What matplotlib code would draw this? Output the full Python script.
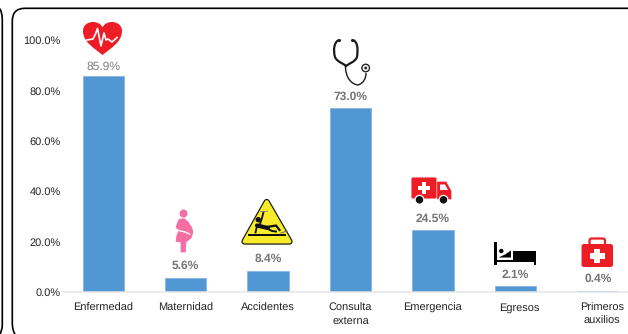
import matplotlib
matplotlib.use("Agg")
from matplotlib import pyplot as plt
from matplotlib.patches import Circle, FancyBboxPatch, PathPatch, Polygon, Rectangle
from matplotlib.path import Path
from matplotlib.ticker import FuncFormatter
from matplotlib.transforms import ScaledTranslation

plt.rcParams["font.family"] = ["Liberation Sans", "DejaVu Sans"]
plt.rcParams["text.hinting"] = "no_hinting"
plt.rcParams["text.hinting_factor"] = 1

categories = ["Enfermedad", "Maternidad", "Accidentes", "Consulta\nexterna",
              "Emergencia", "Egresos", "Primeros\nauxilios"]
values = [85.9, 5.6, 8.4, 73.0, 24.5, 2.1, 0.4]
y_ticks = [0, 20, 40, 60, 80, 100]

W, H = 628, 334
BLUE = "#5097d3"
RED = "#ee1c25"
PINK = "#f46ea3"
YELLOW = "#f8ec2a"

fig = plt.figure(figsize=(W / 100, H / 100), dpi=100)

# main axes run past the right edge, like the cropped original
ax = fig.add_axes([62 / W, 1 - 291.7 / H, 577 / W, 276.5 / H])
x = list(range(len(values)))
ax.bar(x, values, width=0.5, color=BLUE, edgecolor="#7fb3e3", linewidth=0.5)
ax.set_xlim(-0.5, 6.5)
ax.set_ylim(0, 110)
ax.patch.set_alpha(0)
for name in ["top", "right", "left"]:
    ax.spines[name].set_visible(False)
ax.spines["bottom"].set_color("#e6e6e6")
ax.spines["bottom"].set_linewidth(1.1)
ax.set_yticks(y_ticks)
ax.yaxis.set_major_formatter(FuncFormatter(lambda v, p: f"{v:.1f}%"))
ax.set_xticks(x)
ax.set_xticklabels(categories, linespacing=1.4)
ax.tick_params(axis="both", length=0, labelsize=7.7, labelcolor="#222222")
ax.tick_params(axis="y", pad=1.0)
ax.tick_params(axis="x", pad=8.0)

# last two labels sit a bit to the right of their bars
for label in ax.get_xticklabels()[-2:]:
    label.set_transform(label.get_transform() + ScaledTranslation(4 / 100, 0, fig.dpi_scale_trans))

for i, v in enumerate(values):
    first = i == 0
    ax.annotate(f"{v:.1f}%", (i, v), xytext=(0, 6.5 if first else 8.4),
                textcoords="offset points", ha="center", va="center", fontsize=8.5,
                color="#808080" if first else "#757575",
                fontweight="normal" if first else "bold")

# overlay in image pixels for the frame and the icons
ov = fig.add_axes([0, 0, 1, 1], zorder=5)
ov.set_xlim(0, W)
ov.set_ylim(H, 0)
ov.axis("off")


def curve(points, codes, **kw):
    ov.add_patch(PathPatch(Path(points, codes), **kw))


M, L, C3, C4 = Path.MOVETO, Path.LINETO, Path.CURVE3, Path.CURVE4

# frames
curve([(630, 8.3), (25, 8.3), (12.3, 8.3), (12.3, 21), (12.3, 323), (12.3, 331), (16, 336)],
      [M, L, C3, C3, L, C3, C3], fc="none", ec="black", lw=1.2)
curve([(-1, 8), (2.3, 11), (2.3, 20), (2.3, 325), (2.3, 331), (-1, 336)],
      [M, C3, C3, L, C3, C3], fc="none", ec="black", lw=1.2)

# heart
curve([(102.5, 55), (94, 48), (83, 42), (83, 31), (83, 25), (88, 22), (93, 22),
       (97.5, 22), (101, 24), (102.5, 27.5), (104, 24), (107.5, 22), (112, 22),
       (117, 22), (122, 25), (122, 31), (122, 42), (111, 48), (102.5, 55)],
      [M] + [C4] * 18, fc=RED, ec="none")
ov.plot([87, 93, 95.5, 97.5, 101, 104, 106, 108, 112, 117],
        [40, 39, 34, 28.5, 46, 33, 40, 39, 42, 37.5], color="white", lw=1.2)

# pregnant woman
ov.add_patch(Circle((183.5, 213.5), 4, fc=PINK, ec="none"))
ov.add_patch(Polygon([(179, 219.5), (184, 218.5), (188, 222), (191.5, 227), (193, 232),
                      (191, 238), (186, 242), (185.5, 252), (181, 252), (181, 242),
                      (176, 241.5), (177, 235), (179, 231), (176, 227)],
                     fc=PINK, ec=PINK, lw=0.5, joinstyle="round"))
ov.plot([177, 185, 189.5], [230, 232, 234], color="white", lw=1.0)

# wet floor sign
tri = [(266.7, 202), (244.5, 241.5), (289.5, 241.5)]
ov.add_patch(Polygon(tri, fc="#111111", ec="#111111", lw=4.5, joinstyle="round"))
ov.add_patch(Polygon(tri, fc=YELLOW, ec=YELLOW, lw=2.8, joinstyle="round"))
ov.add_patch(Rectangle((248, 234.3), 38, 1.6, fc="#111111", ec="none"))
ov.add_patch(Circle((258.3, 219.7), 2.7, fc="#111111", ec="none"))
ov.plot([257, 268], [225.5, 228], color="#111111", lw=3.0, solid_capstyle="round")
ov.plot([260, 262, 263.5], [224, 218, 212], color="#111111", lw=1.3)
ov.plot([257, 255.5], [226, 232.5], color="#111111", lw=1.3)
ov.plot([267, 276, 279.5], [227, 225.5, 230], color="#111111", lw=1.6)
ov.plot([267, 272, 276], [228.5, 231, 231.5], color="#111111", lw=1.4)
ov.plot([281, 284, 287], [233, 232, 231], color="#666666", lw=0.7)
ov.plot([260, 267], [210.8, 210.8], color="#888888", lw=0.6)

# stethoscope
ink = "#1a1a1a"
curve([(339, 40), (334, 42), (333, 50), (335, 57), (337, 62), (343, 63), (346, 66),
       (350, 63), (355, 62), (357, 57), (358, 50), (358, 42), (353, 40)],
      [M] + [C4] * 12, fc="none", ec=ink, lw=1.6)
curve([(345.5, 65), (345, 78), (352, 84.5), (358, 85), (364, 83), (366, 78), (366, 73)],
      [M] + [C4] * 6, fc="none", ec=ink, lw=1.0)
ov.add_patch(Circle((365.7, 68), 3.8, fc="#e8e8e8", ec=ink, lw=0.9))
ov.add_patch(Circle((365.7, 68), 1.3, fc=ink, ec="none"))
ov.add_patch(Circle((339.5, 40.5), 1.5, fc=ink, ec="none"))
ov.add_patch(Circle((352.5, 40.5), 1.5, fc=ink, ec="none"))

# ambulance
ov.add_patch(FancyBboxPatch((412, 178), 24, 20, boxstyle="round,pad=0,rounding_size=1", fc=RED, ec=RED, lw=0.8))
ov.add_patch(Polygon([(437.5, 182), (446, 182), (451, 191), (451, 199), (437.5, 199)], fc=RED, ec=RED, lw=0.5))
ov.add_patch(Polygon([(440, 184.5), (445, 184.5), (448, 190), (440, 190)], fc="white", ec="none"))
ov.add_patch(Rectangle((421.8, 181.7), 4.4, 12, fc="white", ec="none"))
ov.add_patch(Rectangle((418, 185.5), 12, 4.4, fc="white", ec="none"))
for wx in [419.5, 443.5]:
    ov.add_patch(Circle((wx, 199.8), 4.4, fc="#111111", ec="white", lw=0.9))

# bed
ov.add_patch(Rectangle((494.3, 242), 2.7, 22.7, fc="black", ec="none"))
ov.add_patch(Rectangle((497, 259.5), 16, 2, fc="black", ec="none"))
ov.add_patch(Circle((501.3, 251), 2.2, fc="black", ec="none"))
ov.add_patch(Polygon([(498.5, 257.5), (511, 257.5), (511, 250.5), (505, 254.5)], fc="black", ec="none"))
ov.add_patch(Rectangle((513, 250.5), 23.3, 11, fc="black", ec="none"))
ov.add_patch(Rectangle((534, 260), 2.3, 4.7, fc="black", ec="none"))

# first aid kit
ov.add_patch(FancyBboxPatch((589.5, 238.5), 15.5, 8, boxstyle="round,pad=0,rounding_size=2.2", fc="none", ec=RED, lw=1.6))
ov.add_patch(FancyBboxPatch((581.5, 244), 31.5, 23, boxstyle="round,pad=0,rounding_size=2.5", fc=RED, ec="none"))
ov.add_patch(Rectangle((594.3, 248.5), 6, 14.5, fc="white", ec="none"))
ov.add_patch(Rectangle((590, 252.8), 14.6, 6, fc="white", ec="none"))

plt.savefig("out.png", dpi=100)
